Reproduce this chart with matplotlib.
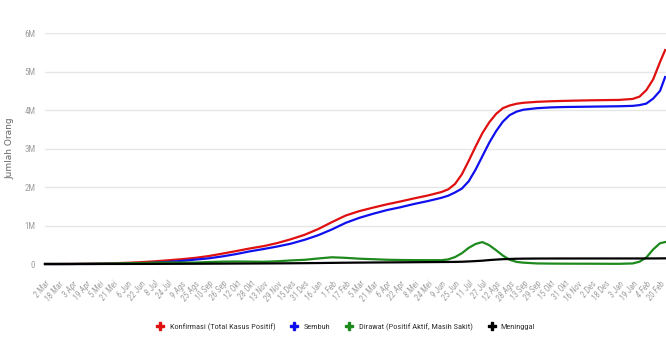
import pandas as pd
import matplotlib
matplotlib.use('Agg')
import matplotlib.pyplot as plt
import matplotlib.dates as mdates
from matplotlib.ticker import FuncFormatter
from matplotlib import font_manager

plt.rcParams['font.family'] = ['DejaVu Sans']

# Data (juta orang)
dates = ['2020-03-02', '2020-03-18', '2020-04-03', '2020-04-19', '2020-05-05', '2020-05-21',
         '2020-06-06', '2020-06-22', '2020-07-08', '2020-07-24', '2020-08-09', '2020-08-25',
         '2020-09-10', '2020-09-26', '2020-10-12', '2020-10-28', '2020-11-13', '2020-11-29',
         '2020-12-15', '2020-12-31', '2021-01-16', '2021-02-01', '2021-02-17', '2021-03-05',
         '2021-03-21', '2021-04-06', '2021-04-22', '2021-05-08', '2021-05-24', '2021-06-09',
         '2021-06-17', '2021-06-25', '2021-07-03', '2021-07-11', '2021-07-19', '2021-07-27',
         '2021-08-04', '2021-08-12', '2021-08-20', '2021-08-28', '2021-09-05', '2021-09-13',
         '2021-09-29', '2021-10-15', '2021-10-31', '2021-11-16', '2021-12-02', '2021-12-18',
         '2022-01-03', '2022-01-19', '2022-01-27', '2022-02-04', '2022-02-12', '2022-02-20',
         '2022-02-26']

konfirmasi = [0.0, 0.0002, 0.002, 0.0066, 0.012, 0.020,
              0.031, 0.047, 0.069, 0.096, 0.125, 0.160,
              0.208, 0.271, 0.337, 0.405, 0.465, 0.545,
              0.645, 0.760, 0.910, 1.090, 1.260, 1.375,
              1.465, 1.550, 1.625, 1.705, 1.780, 1.870,
              1.940, 2.080, 2.330, 2.680, 3.050, 3.400,
              3.680, 3.900, 4.050, 4.120, 4.165, 4.190,
              4.215, 4.230, 4.240, 4.248, 4.255, 4.260,
              4.265, 4.290, 4.350, 4.520, 4.800, 5.250,
              5.560]

sembuh = [0.0, 0.0, 0.0001, 0.0006, 0.0022, 0.005,
          0.0095, 0.0185, 0.032, 0.054, 0.081, 0.115,
          0.148, 0.199, 0.259, 0.330, 0.390, 0.455,
          0.530, 0.630, 0.750, 0.900, 1.070, 1.200,
          1.305, 1.400, 1.475, 1.560, 1.635, 1.720,
          1.775, 1.860, 1.960, 2.150, 2.450, 2.800,
          3.150, 3.450, 3.700, 3.870, 3.960, 4.010,
          4.050, 4.070, 4.080, 4.085, 4.090, 4.095,
          4.100, 4.110, 4.130, 4.170, 4.300, 4.500,
          4.860]

dirawat = [0.0, 0.0002, 0.0016, 0.0054, 0.0089, 0.0137,
           0.0192, 0.0261, 0.0337, 0.0371, 0.0388, 0.0378,
           0.0512, 0.0617, 0.0653, 0.0624, 0.0585, 0.0712,
           0.0934, 0.1090, 0.1440, 0.1750, 0.1600, 0.1380,
           0.1250, 0.1110, 0.1040, 0.1010, 0.1000, 0.0990,
           0.1200, 0.1800, 0.2800, 0.4200, 0.5200, 0.5700,
           0.4900, 0.3600, 0.2200, 0.1100, 0.0550, 0.0350,
           0.0150, 0.0110, 0.0090, 0.0080, 0.0076, 0.0060,
           0.0050, 0.0150, 0.0600, 0.1700, 0.3800, 0.5400,
           0.5700]

meninggal = [0.0, 0.0, 0.0002, 0.0006, 0.0009, 0.0013,
             0.0018, 0.0025, 0.0034, 0.0046, 0.0056, 0.0069,
             0.0085, 0.0103, 0.0119, 0.0134, 0.0150, 0.0168,
             0.0191, 0.0221, 0.0256, 0.0298, 0.0337, 0.0368,
             0.0396, 0.0420, 0.0440, 0.0470, 0.0495, 0.0520,
             0.0535, 0.0552, 0.0590, 0.0667, 0.0760, 0.0862,
             0.1020, 0.1150, 0.1250, 0.1310, 0.1370, 0.1395,
             0.1420, 0.1430, 0.1435, 0.1437, 0.1439, 0.1440,
             0.1441, 0.1442, 0.1443, 0.1445, 0.1450, 0.1460,
             0.1470]

tick_labels = ['2 Mar', '18 Mar', '3 Apr', '19 Apr', '5 Mei', '21 Mei', '6 Jun', '22 Jun',
               '8 Jul', '24 Jul', '9 Ags', '25 Ags', '10 Sep', '26 Sep', '12 Okt', '28 Okt',
               '13 Nov', '29 Nov', '15 Des', '31 Des', '16 Jan', '1 Feb', '17 Feb', '5 Mar',
               '21 Mar', '6 Apr', '22 Apr', '8 Mei', '24 Mei', '9 Jun', '25 Jun', '11 Jul',
               '27 Jul', '12 Ags', '28 Ags', '13 Sep', '29 Sep', '15 Okt', '31 Okt', '16 Nov',
               '2 Des', '18 Des', '3 Jan', '19 Jan', '4 Feb', '20 Feb']

series = [
    ('Konfirmasi (Total Kasus Positif)', konfirmasi, '#e01010'),
    ('Sembuh', sembuh, '#1010ee'),
    ('Dirawat (Positif Aktif, Masih Sakit)', dirawat, '#1e8a1e'),
    ('Meninggal', meninggal, '#000000'),
]

# condensed font for ticks and legend, if one is installed
names = {f.name for f in font_manager.fontManager.ttflist}
narrow = None
for cand in ['Liberation Sans Narrow', 'DejaVu Sans Condensed', 'Roboto Condensed', 'Open Sans Condensed']:
    if cand in names:
        narrow = cand
        break
tick_font = font_manager.FontProperties(family=narrow or 'DejaVu Sans',
                                        stretch='condensed', style='italic', size=6.2)
ytick_font = font_manager.FontProperties(family=narrow or 'DejaVu Sans',
                                         stretch='condensed', size=6.4)
leg_font = font_manager.FontProperties(family=narrow or 'DejaVu Sans',
                                       stretch='condensed', size=6.0)

x = pd.to_datetime(dates)
tick_dates = pd.date_range('2020-03-02', periods=len(tick_labels), freq='16D')

fig = plt.figure(figsize=(6.66, 3.40), dpi=100)
ax = fig.add_axes([0.0676, 0.2235, 0.9324, 0.679])

for name, vals, color in series:
    ax.plot(x, [v * 1e6 for v in vals], color=color, lw=1.6, label=name,
            clip_on=False, solid_joinstyle='round', zorder=3)

ax.set_ylim(0, 6e6)
ax.set_xlim(pd.Timestamp('2020-03-02'), pd.Timestamp('2022-02-27'))
ax.set_yticks([i * 1e6 for i in range(7)])
ax.yaxis.set_major_formatter(FuncFormatter(lambda v, p: '0' if v == 0 else f'{int(v / 1e6)}M'))
ax.set_xticks(mdates.date2num(tick_dates))
ax.set_xticklabels(tick_labels, rotation=50, ha='right', rotation_mode='anchor')
for lab in ax.get_xticklabels():
    lab.set_fontproperties(tick_font)
for lab in ax.get_yticklabels():
    lab.set_fontproperties(ytick_font)

ax.grid(axis='y', color='#e6e6e6', lw=1)
ax.set_axisbelow(True)
for s in ax.spines.values():
    s.set_visible(False)
ax.tick_params(axis='both', length=0, colors='#a0a0a0')
ax.tick_params(axis='y', pad=7)
ax.tick_params(axis='x', pad=11)
ax.set_ylabel('Jumlah Orang', fontsize=6.5, color='#666666')
ax.yaxis.set_label_coords(-0.05, 0.5)

handles = [plt.Line2D([], [], marker='P', ls='none', color=c, markersize=6) for _, _, c in series]
fig.legend(handles, [s[0] for s in series], loc='center', bbox_to_anchor=(0.516, 0.038),
           ncol=4, frameon=False, prop=leg_font, handletextpad=0.1, columnspacing=1.3,
           labelcolor='#333333')

fig.savefig('out.png', dpi=100)
